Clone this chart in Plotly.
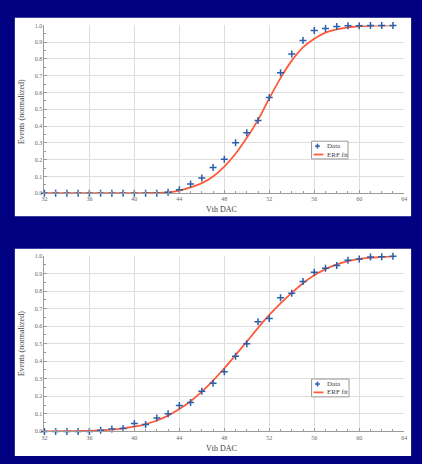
import plotly.graph_objects as go

# ---- data ----
x_vals = list(range(32, 64))

top_data = [0, 0, 0, 0, 0, 0, 0, 0, 0, 0.0, 0.0, 0.005, 0.02, 0.055, 0.09, 0.153,
            0.202, 0.30, 0.36, 0.433, 0.57, 0.718, 0.829, 0.91, 0.97, 0.982, 0.994,
            0.998, 0.998, 1.0, 1.0, 1.0]
top_fit = [0, 0, 0, 0, 0, 0, 0, 0, 0, 0.001, 0.002, 0.005, 0.015, 0.035, 0.06, 0.10,
           0.159, 0.235, 0.33, 0.437, 0.565, 0.686, 0.79, 0.869, 0.92, 0.957, 0.976,
           0.988, 0.995, 0.998, 0.999, 1.0]

bot_data = [0, 0, 0, 0, 0, 0.006, 0.013, 0.017, 0.045, 0.04, 0.077, 0.10, 0.148,
            0.165, 0.229, 0.274, 0.34, 0.428, 0.499, 0.625, 0.643, 0.762, 0.788,
            0.854, 0.908, 0.93, 0.946, 0.976, 0.983, 0.994, 0.996, 0.998]
bot_fit = [0, 0, 0.001, 0.002, 0.003, 0.006, 0.01, 0.017, 0.027, 0.042, 0.062, 0.09,
           0.127, 0.172, 0.227, 0.29, 0.36, 0.435, 0.512, 0.59, 0.664, 0.73, 0.79,
           0.845, 0.89, 0.925, 0.952, 0.97, 0.983, 0.99, 0.995, 0.998]

x_tick_vals = [32, 36, 40, 44, 48, 52, 56, 60, 64]
y_tick_vals = [0.0, 0.1, 0.2, 0.3, 0.4, 0.5, 0.6, 0.7, 0.8, 0.9, 1.0]
series_names = ["Data", "ERF fit"]
x_title = "Vth DAC"
y_title = "Events (normalized)"

W, H = 422, 464
NAVY = "#000080"
DATA_C = "#2b5fa8"
FIT_C = "#ff5b3a"
SERIF = "Liberation Serif, Times New Roman, serif"

fig = go.Figure()

def add_panel(yd, fit, xa, ya):
    fig.add_trace(go.Scatter(x=x_vals, y=fit, mode="lines", name=series_names[1],
                             line=dict(color=FIT_C, width=1.8, shape="spline"),
                             xaxis=xa, yaxis=ya, showlegend=False,
                             cliponaxis=False))
    fig.add_trace(go.Scatter(x=x_vals, y=yd, mode="markers", name=series_names[0],
                             marker=dict(symbol="cross-thin", size=5,
                                         line=dict(color=DATA_C, width=1.5)),
                             xaxis=xa, yaxis=ya, showlegend=False,
                             cliponaxis=False))

add_panel(top_data, top_fit, "x", "y")
add_panel(bot_data, bot_fit, "x2", "y2")

def px(v):
    return v / W

def py(v):
    return 1 - v / H

axis_common = dict(showgrid=True, gridcolor="#dedede", gridwidth=1,
                   showline=True, linecolor="#9a9a9a", linewidth=1,
                   ticks="inside", ticklen=3, tickcolor="#9a9a9a",
                   tickfont=dict(family=SERIF, size=6, color="#666"),
                   zeroline=False)
xminor = dict(dtick=1, ticks="inside", ticklen=2, tickcolor="#9a9a9a", showgrid=False)
yminor = dict(dtick=0.05, ticks="inside", ticklen=2, tickcolor="#9a9a9a", showgrid=False)

xdom = [px(42), px(407)]
fig.update_layout(
    width=W, height=H, margin=dict(l=0, r=0, t=0, b=0),
    paper_bgcolor=NAVY, plot_bgcolor="#fdfdfd",
    xaxis=dict(domain=xdom, range=[32, 64], tickvals=x_tick_vals, anchor="y",
               minor=xminor, ticklabelstandoff=0, **axis_common),
    yaxis=dict(domain=[py(192.7), py(22.7)], range=[0, 1], tickvals=y_tick_vals,
               tickformat=".1f", anchor="x", minor=yminor, **axis_common),
    xaxis2=dict(domain=xdom, range=[32, 64], tickvals=x_tick_vals, anchor="y2",
                minor=xminor, ticklabelstandoff=0, **axis_common),
    yaxis2=dict(domain=[py(434), py(256.3)], range=[0, 1], tickvals=y_tick_vals,
                tickformat=".1f", anchor="x2", minor=yminor, **axis_common),
    showlegend=False,
)

# white panels
for (x0, y0, x1, y1) in [(12, 15, 414, 216), (12, 249, 414, 459)]:
    fig.add_shape(type="rect", xref="paper", yref="paper",
                  x0=px(x0), x1=px(x1), y0=py(y1), y1=py(y0),
                  fillcolor="white", line=dict(width=0), layer="below")

# legends (box, samples, labels)
for (lx0, ly0, lx1, ly1) in [(313, 140, 350, 158), (313, 381, 351, 399)]:
    fig.add_shape(type="rect", xref="paper", yref="paper",
                  x0=px(lx0), x1=px(lx1), y0=py(ly1), y1=py(ly0),
                  fillcolor="white", line=dict(color="#999", width=1))
    ym = ly0 + 5
    yl = ly0 + 13.5
    fig.add_shape(type="line", xref="paper", yref="paper",
                  x0=px(316.5), x1=px(321.5), y0=py(ym), y1=py(ym),
                  line=dict(color=DATA_C, width=1.5))
    fig.add_shape(type="line", xref="paper", yref="paper",
                  x0=px(319), x1=px(319), y0=py(ym - 2.5), y1=py(ym + 2.5),
                  line=dict(color=DATA_C, width=1.5))
    fig.add_shape(type="line", xref="paper", yref="paper",
                  x0=px(315), x1=px(325), y0=py(yl), y1=py(yl),
                  line=dict(color=FIT_C, width=1.8))
    fig.add_annotation(x=px(327), y=py(ym), xref="paper", yref="paper",
                       xanchor="left", yanchor="middle", text=series_names[0],
                       showarrow=False, font=dict(family=SERIF, size=7, color="#444"))
    fig.add_annotation(x=px(327), y=py(yl), xref="paper", yref="paper",
                       xanchor="left", yanchor="middle", text=series_names[1],
                       showarrow=False, font=dict(family=SERIF, size=7, color="#444"))

# axis titles
for (cx, cy) in [(222, 209), (222, 451)]:
    fig.add_annotation(x=px(cx), y=py(cy), xref="paper", yref="paper",
                       xanchor="center", yanchor="middle",
                       text=x_title, showarrow=False,
                       font=dict(family=SERIF, size=8, color="#444"))
for (cx, cy) in [(19, 110), (19, 345)]:
    fig.add_annotation(x=px(cx), y=py(cy), xref="paper", yref="paper",
                       xanchor="center", yanchor="middle",
                       text=y_title, showarrow=False, textangle=-90,
                       font=dict(family=SERIF, size=8, color="#444"))

fig.write_html("out.html", config={"displayModeBar": False},
               post_script="document.body.style.margin='0';document.body.style.background='%s';" % NAVY)
